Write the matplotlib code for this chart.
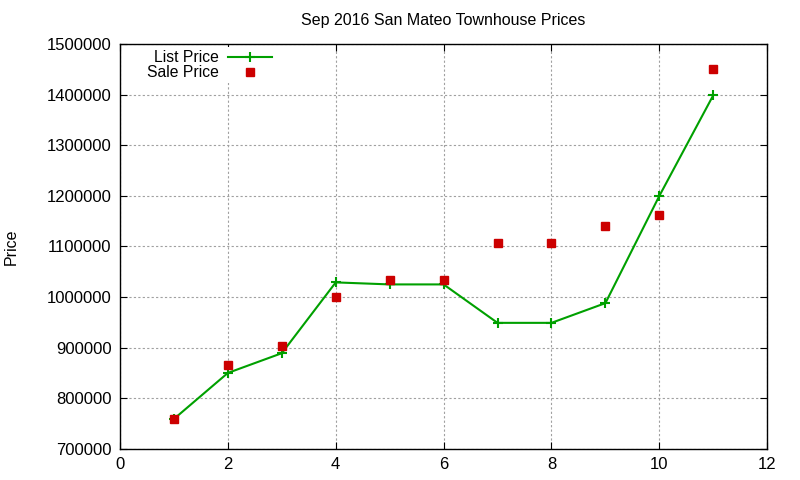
import matplotlib
matplotlib.use('Agg')
import matplotlib.pyplot as plt

# Values
units = [1, 2, 3, 4, 5, 6, 7, 8, 9, 10, 11]
list_price = [759000, 850000, 889000, 1029000, 1025000, 1025000,
              949000, 949000, 988000, 1200000, 1399000]
sale_price = [759000, 865000, 903000, 1001000, 1033000, 1033000,
              1107000, 1107000, 1140000, 1163000, 1450000]

x_ticks = [0, 2, 4, 6, 8, 10, 12]
y_ticks = [700000, 800000, 900000, 1000000, 1100000, 1200000, 1300000, 1400000, 1500000]

plt.rcParams['font.family'] = ['Liberation Sans', 'DejaVu Sans']

fig = plt.figure(figsize=(8, 4.8), dpi=100)
ax = fig.add_axes([0.15, 0.065, 0.809, 0.843])

ax.plot(units, list_price, color='#00a000', linewidth=1.5, marker='+',
        markersize=7, markeredgewidth=1.5, label='List Price', zorder=3)
ax.plot(units, sale_price, linestyle='none', color='#cc0000', marker='s',
        markersize=6, label='Sale Price', zorder=4)

ax.set_xlim(0, 12)
ax.set_ylim(700000, 1500000)
ax.set_xticks(x_ticks)
ax.set_yticks(y_ticks)
ax.set_yticklabels([str(v) for v in y_ticks])
ax.tick_params(direction='in', top=True, right=True, length=5, labelsize=12, pad=6)
ax.grid(True, color='#a0a0a0', linestyle=(0, (2, 2)), linewidth=0.8)
ax.set_axisbelow(True)
for s in ax.spines.values():
    s.set_linewidth(1.0)

ax.set_title('Sep 2016 San Mateo Townhouse Prices', fontsize=11.5, pad=14)
ax.set_ylabel('Price', fontsize=11.5)
ax.yaxis.set_label_coords(-0.156, 0.5)

leg = ax.legend(loc='upper left', bbox_to_anchor=(0.025, 1.012), markerfirst=False,
                frameon=True, fancybox=False, edgecolor='none', facecolor='white',
                framealpha=1, fontsize=11.3, handlelength=2.8, handletextpad=0.6,
                labelspacing=0.0, borderpad=0.2)
leg.set_zorder(2.4)  # keep the top spine drawn over the legend background
for t in leg.get_texts():
    t.set_ha('right')

fig.savefig('out.png', dpi=100)
